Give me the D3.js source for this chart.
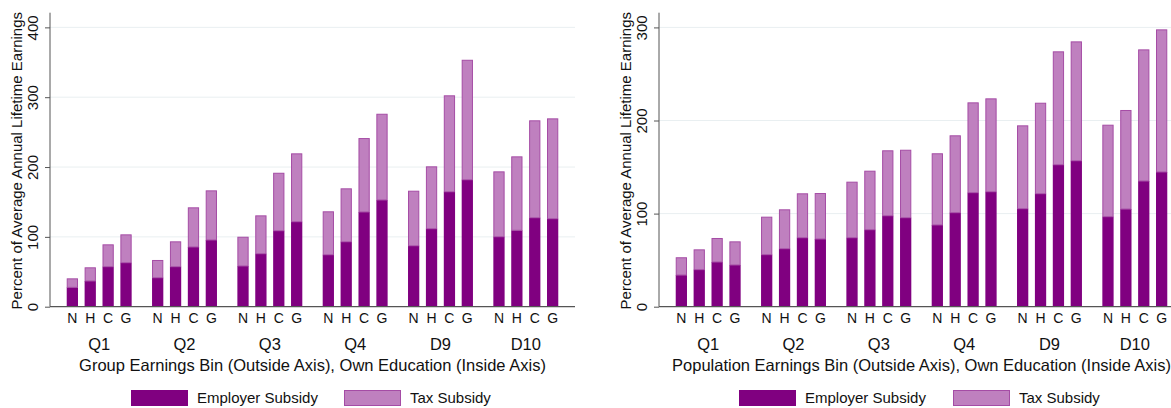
<!DOCTYPE html>
<html>
<head>
<meta charset="utf-8">
<script src="https://cdn.jsdelivr.net/npm/d3@7"></script>
<style>
  html, body { margin: 0; padding: 0; background: #fff; overflow: hidden; }
  svg { display: block; font-family: "Liberation Sans", Arial, sans-serif; }
</style>
</head>
<body>
<svg id="chart" width="1171" height="408"></svg>
<script>
// ---- Data ----
const bins = ["Q1", "Q2", "Q3", "Q4", "D9", "D10"];
const education = ["N", "H", "C", "G"];
const seriesNames = ["Employer Subsidy", "Tax Subsidy"];

// Left panel: group earnings bins
const leftEmployer = [
  [27.7, 36.8, 57.3, 63.0],
  [41.5, 57.3, 85.5, 95.5],
  [58.3, 75.9, 108.8, 121.7],
  [74.4, 93.0, 135.6, 152.8],
  [87.3, 111.7, 164.6, 181.8],
  [100.2, 109.4, 127.4, 126.0]
];
const leftTax = [
  [12.9, 19.6, 32.0, 40.6],
  [25.4, 36.3, 56.8, 71.1],
  [41.9, 54.9, 83.0, 97.9],
  [62.2, 76.5, 105.9, 123.5],
  [78.8, 89.3, 138.1, 171.8],
  [93.6, 105.9, 139.5, 143.7]
];
const leftTicks = [0, 100, 200, 300, 400];

// Right panel: population earnings bins
const rightEmployer = [
  [34.0, 39.8, 48.0, 44.8],
  [55.9, 62.3, 74.1, 72.7],
  [74.1, 82.7, 97.7, 95.6],
  [87.8, 101.0, 122.5, 123.5],
  [105.3, 121.4, 152.5, 156.8],
  [96.7, 104.9, 135.0, 144.7]
];
const rightTax = [
  [19.1, 21.8, 25.8, 25.4],
  [40.8, 42.3, 47.7, 49.4],
  [60.2, 63.4, 70.3, 73.0],
  [77.0, 83.1, 97.0, 100.3],
  [89.5, 97.7, 121.8, 128.2],
  [98.8, 106.4, 141.4, 153.2]
];
const rightTicks = [0, 100, 200, 300];

const yTitle = "Percent of Average Annual Lifetime Earnings";
const leftXTitle = "Group Earnings Bin (Outside Axis), Own Education (Inside Axis)";
const rightXTitle = "Population Earnings Bin (Outside Axis), Own Education (Inside Axis)";

// ---- Styles ----
const colEmployer = "#800080";
const colTax = "#bf80bf";
const colTaxStroke = "#a54ca5";
const colAxis = "#555555";
const colGrid = "#e9eff1";

const svg = d3.select("#chart");

function drawPanel(cfg) {
  const { x0, x1, yMax, ticks, employer, tax, xTitle, legendX } = cfg;
  const yTop = 12.7, yBot = 306.7;
  const g = svg.append("g");

  const y = d3.scaleLinear().domain([0, yMax]).range([yBot, yTop]);
  const xGroup = d3.scaleBand().domain(bins).range([x0, x1])
    .paddingInner(0.239).paddingOuter(0.196);
  const xEdu = d3.scaleBand().domain(education).range([0, xGroup.bandwidth()])
    .paddingInner(0.37).paddingOuter(0);

  // gridlines
  g.append("g").selectAll("line").data(ticks.filter(t => t > 0)).join("line")
    .attr("x1", x0).attr("x2", x1)
    .attr("y1", d => y(d)).attr("y2", d => y(d))
    .attr("stroke", colGrid).attr("stroke-width", 1);

  // stacked data
  const rows = [];
  bins.forEach((b, i) => education.forEach((e, j) => {
    rows.push({ bin: b, edu: e, "Employer Subsidy": employer[i][j], "Tax Subsidy": tax[i][j] });
  }));
  const stacked = d3.stack().keys(seriesNames)(rows);

  const fills = [colEmployer, colTax];
  const strokes = ["none", colTaxStroke];
  stacked.forEach((layer, k) => {
    g.append("g").selectAll("rect").data(layer).join("rect")
      .attr("x", d => xGroup(d.data.bin) + xEdu(d.data.edu) + (k ? 0.5 : 0))
      .attr("width", xEdu.bandwidth() - (k ? 1 : 0))
      .attr("y", d => y(d[1]) + (k ? 0.5 : 0))
      .attr("height", d => Math.max(0, y(d[0]) - y(d[1]) - (k ? 0.5 : 0)))
      .attr("fill", fills[k])
      .attr("stroke", strokes[k])
      .attr("stroke-width", 1);
  });

  // y axis
  const yAxis = d3.axisLeft(y).tickValues(ticks).tickSize(5).tickPadding(7);
  const ya = g.append("g").attr("transform", `translate(${x0},0)`).call(yAxis);
  ya.select(".domain").attr("stroke", colAxis).attr("d", `M-0,${yTop}V${yBot}`);
  ya.selectAll(".tick line").attr("stroke", colAxis);
  ya.selectAll(".tick text")
    .attr("font-size", 15).attr("fill", "#111")
    .attr("x", null).attr("dy", null)
    .attr("text-anchor", "middle")
    .attr("transform", "translate(-12,0) rotate(-90)");

  // x axis baseline
  g.append("line").attr("x1", x0).attr("x2", x1).attr("y1", yBot).attr("y2", yBot)
    .attr("stroke", colAxis).attr("stroke-width", 1.2);

  // inner (education) labels
  bins.forEach(b => {
    g.append("g").selectAll("text").data(education).join("text")
      .attr("x", e => xGroup(b) + xEdu(e) + xEdu.bandwidth() / 2)
      .attr("y", 322.7)
      .attr("text-anchor", "middle").attr("font-size", 14).attr("fill", "#111")
      .text(e => e);
  });
  // outer (bin) labels
  g.append("g").selectAll("text").data(bins).join("text")
    .attr("x", b => xGroup(b) + xGroup.bandwidth() / 2)
    .attr("y", 350)
    .attr("text-anchor", "middle").attr("font-size", 16.5).attr("fill", "#111")
    .text(b => b);

  // x title
  g.append("text").attr("x", (x0 + x1) / 2).attr("y", 371)
    .attr("text-anchor", "middle").attr("font-size", 16.5).attr("fill", "#111")
    .text(xTitle);

  // y title
  g.append("text")
    .attr("transform", `translate(${x0 - 28},${(yTop + yBot) / 2 + 1}) rotate(-90)`)
    .attr("text-anchor", "middle").attr("font-size", 15).attr("fill", "#111")
    .text(yTitle);

  // legend
  const lg = g.append("g");
  lg.append("rect").attr("x", legendX[0]).attr("y", 390).attr("width", 57).attr("height", 16)
    .attr("fill", colEmployer);
  lg.append("text").attr("x", legendX[0] + 66).attr("y", 403).attr("font-size", 15).attr("fill", "#111")
    .text(seriesNames[0]);
  lg.append("rect").attr("x", legendX[1] + 0.5).attr("y", 390.5).attr("width", 56).attr("height", 15)
    .attr("fill", colTax).attr("stroke", colTaxStroke);
  lg.append("text").attr("x", legendX[1] + 66).attr("y", 403).attr("font-size", 15).attr("fill", "#111")
    .text(seriesNames[1]);
}

drawPanel({ x0: 50, x1: 575, yMax: 421, ticks: leftTicks, employer: leftEmployer, tax: leftTax,
  xTitle: leftXTitle, legendX: [131, 344] });
drawPanel({ x0: 659, x1: 1184, yMax: 315.8, ticks: rightTicks, employer: rightEmployer, tax: rightTax,
  xTitle: rightXTitle, legendX: [739, 953] });
</script>
</body>
</html>
